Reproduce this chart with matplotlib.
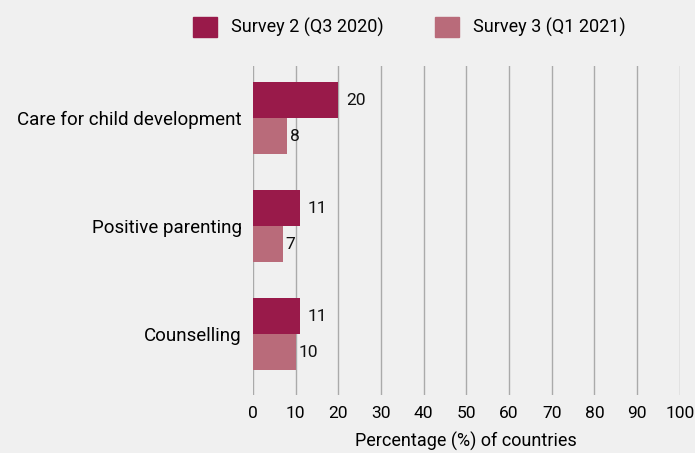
import numpy as np
import matplotlib
matplotlib.use('Agg')
from matplotlib import pyplot as plt
from matplotlib import font_manager
from matplotlib.patches import Patch

names = {f.name for f in font_manager.fontManager.ttflist}
family = 'Liberation Sans Narrow' if 'Liberation Sans Narrow' in names else 'Roboto'
plt.rcParams['font.family'] = [family, 'DejaVu Sans']

categories = ['Care for child development', 'Positive parenting', 'Counselling']
survey2 = [20, 11, 11]
survey3 = [8, 7, 10]
series_names = ['Survey 2 (Q3 2020)', 'Survey 3 (Q1 2021)']
xticks = [0, 10, 20, 30, 40, 50, 60, 70, 80, 90, 100]

dark = '#991a4a'
light = '#b96b7a'
bg = '#f0f0f0'

fig = plt.figure(figsize=(6.95, 4.53), dpi=100, facecolor=bg)
ax = fig.add_axes([0.364, 0.128, 0.614, 0.726], facecolor=bg)

y = np.arange(len(categories))
h = 1 / 3
ax.barh(y - h / 2, survey2, height=h, color=dark, zorder=3)
ax.barh(y + h / 2, survey3, height=h, color=light, zorder=3)

for yi, v in zip(y - h / 2, survey2):
    ax.text(v + 1.8, yi, str(v), va='center', ha='left', fontsize=12.5, color='#111111')
for yi, v in zip(y + h / 2, survey3):
    ax.text(v + 0.6, yi, str(v), va='center', ha='left', fontsize=12.5, color='#111111')

ax.set_xlim(0, 100)
ax.set_ylim(2.565, -0.481)
ax.set_xticks(xticks)
ax.set_yticks(y)
ax.set_yticklabels(categories, fontsize=13.5)
ax.tick_params(axis='x', labelsize=12.5, length=0, pad=8)
ax.tick_params(axis='y', length=0, pad=8)
ax.grid(axis='x', color='#aaaaaa', linewidth=1.0, zorder=0)
for s in ax.spines.values():
    s.set_visible(False)
ax.set_xlabel('Percentage (%) of countries', fontsize=13, labelpad=8)

handles = [Patch(color=dark), Patch(color=light)]
fig.legend(handles, series_names, loc='center', bbox_to_anchor=(0.589, 0.94), ncol=2,
           frameon=False, fontsize=13, handlelength=1.35, handleheight=1.35,
           columnspacing=2.8, handletextpad=0.8)

fig.savefig('out.png', dpi=100, facecolor=bg)
